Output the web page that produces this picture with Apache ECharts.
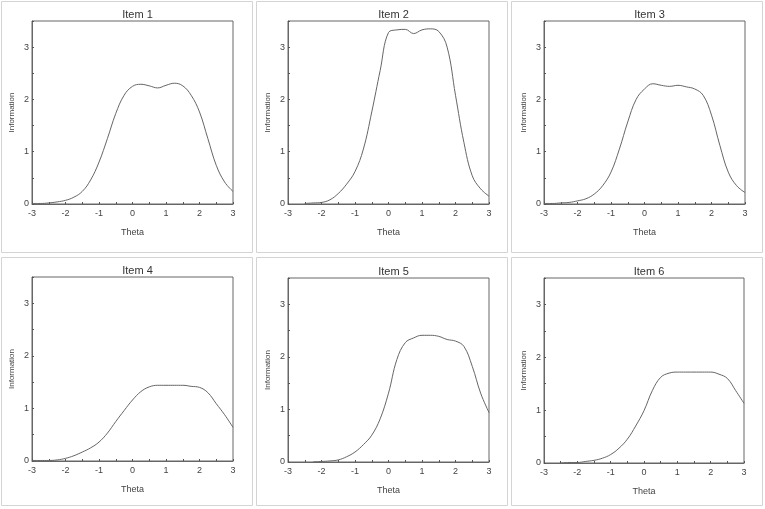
<!DOCTYPE html>
<html>
<head>
<meta charset="utf-8">
<script src="https://cdn.jsdelivr.net/npm/echarts@6/dist/echarts.min.js"></script>
<style>html,body{margin:0;padding:0;background:#fff;}#c{width:765px;height:509px;}</style>
</head>
<body>
<div id="c"></div>
<script>
const theta = [-3,-2.75,-2.5,-2.25,-2,-1.75,-1.5,-1.25,-1,-0.75,-0.5,-0.25,0,0.25,0.5,0.75,1,1.25,1.5,1.75,2,2.25,2.5,2.75,3];
const itemTitles = ['Item 1','Item 2','Item 3','Item 4','Item 5','Item 6'];
const item1 = [0.01,0.01,0.02,0.04,0.07,0.13,0.24,0.46,0.8,1.25,1.73,2.08,2.25,2.29,2.26,2.22,2.27,2.31,2.26,2.08,1.76,1.25,0.74,0.42,0.24];
const item2 = [null,null,0.01,0.02,0.03,0.08,0.2,0.38,0.62,1.05,1.76,2.55,3.28,3.33,3.34,3.26,3.33,3.35,3.3,3.0,2.08,1.18,0.54,0.29,0.15];
const item3 = [0.01,0.01,0.02,0.03,0.06,0.1,0.19,0.35,0.61,1.05,1.57,2.0,2.2,2.3,2.27,2.25,2.27,2.24,2.2,2.08,1.7,1.12,0.61,0.35,0.22];
const item4 = [0.01,0.01,0.01,0.02,0.05,0.1,0.17,0.25,0.36,0.53,0.75,0.96,1.16,1.32,1.41,1.44,1.44,1.44,1.44,1.42,1.4,1.3,1.09,0.88,0.64];
const item5 = [null,null,null,0,0.01,0.02,0.04,0.1,0.19,0.33,0.51,0.82,1.31,1.95,2.27,2.36,2.41,2.41,2.39,2.33,2.3,2.2,1.82,1.31,0.94];
const item6 = [null,null,0,0.01,0.01,0.03,0.05,0.09,0.16,0.28,0.45,0.7,0.99,1.37,1.62,1.7,1.72,1.72,1.72,1.72,1.72,1.68,1.6,1.37,1.13];
const itemValues = [item1,item2,item3,item4,item5,item6];

const grids = [
  {left:32, top:21, width:201, height:183},
  {left:288, top:21, width:201, height:183},
  {left:544, top:21, width:201, height:183},
  {left:32, top:277, width:201, height:184},
  {left:288, top:278, width:201, height:184},
  {left:544, top:278, width:200, height:185}
];
const boxes = [
  [1.5,1.5,251,251],[256.5,1.5,251,251],[511.5,1.5,251,251],
  [1.5,257.5,251,248],[256.5,257.5,251,248],[511.5,257.5,251,248]
];

const font = 'Liberation Sans, Arial, sans-serif';
const intFmt = v => (Math.abs(v - Math.round(v)) < 1e-9 && v <= 3) ? String(Math.round(v)) : '';

const option = {
  animation:false,
  backgroundColor:'#fff',
  graphic: boxes.map(b => ({type:'rect', silent:true, z:-1, shape:{x:b[0],y:b[1],width:b[2],height:b[3]}, style:{fill:'#fff', stroke:'#d4d4d4', lineWidth:1}})),
  title: grids.map((g,i) => ({text:itemTitles[i], left:g.left + g.width/2, top:g.top - 17, textAlign:'center',
    textStyle:{fontFamily:font, fontSize:11, fontWeight:'normal', color:'#333'}})),
  grid: grids.map(g => Object.assign({show:true, borderColor:'#666', borderWidth:1, backgroundColor:'transparent'}, g)),
  xAxis: grids.map((g,i) => ({type:'value', gridIndex:i, min:-3, max:3, interval:0.5,
    name:'Theta', nameLocation:'middle', nameGap:24,
    nameTextStyle:{fontFamily:font, fontSize:9, color:'#444'},
    axisLine:{show:true, onZero:false, lineStyle:{color:'#666', width:1}},
    axisTick:{show:true, inside:true, length:2, lineStyle:{color:'#555'}},
    axisLabel:{fontFamily:font, fontSize:9, color:'#444', margin:5, formatter:intFmt},
    splitLine:{show:false}})),
  yAxis: grids.map((g,i) => ({type:'value', gridIndex:i, min:0, max:3.5, interval:0.5,
    name:'Information', nameLocation:'middle', nameGap:16,
    nameTextStyle:{fontFamily:font, fontSize:8, color:'#444'},
    axisLine:{show:true, onZero:false, lineStyle:{color:'#666', width:1}},
    axisTick:{show:true, inside:true, length:2, lineStyle:{color:'#555'}},
    axisLabel:{fontFamily:font, fontSize:9, color:'#444', margin:3, formatter:intFmt},
    splitLine:{show:false}})),
  series: itemValues.map((vals,i) => ({type:'line', xAxisIndex:i, yAxisIndex:i,
    data: theta.map((t,k) => [t, vals[k]]),
    smooth:0.4, showSymbol:false, connectNulls:false,
    lineStyle:{color:'#666', width:1}}))
};
const chart = echarts.init(document.getElementById('c'), null, {renderer:'canvas'});
chart.setOption(option);
</script>
</body>
</html>
